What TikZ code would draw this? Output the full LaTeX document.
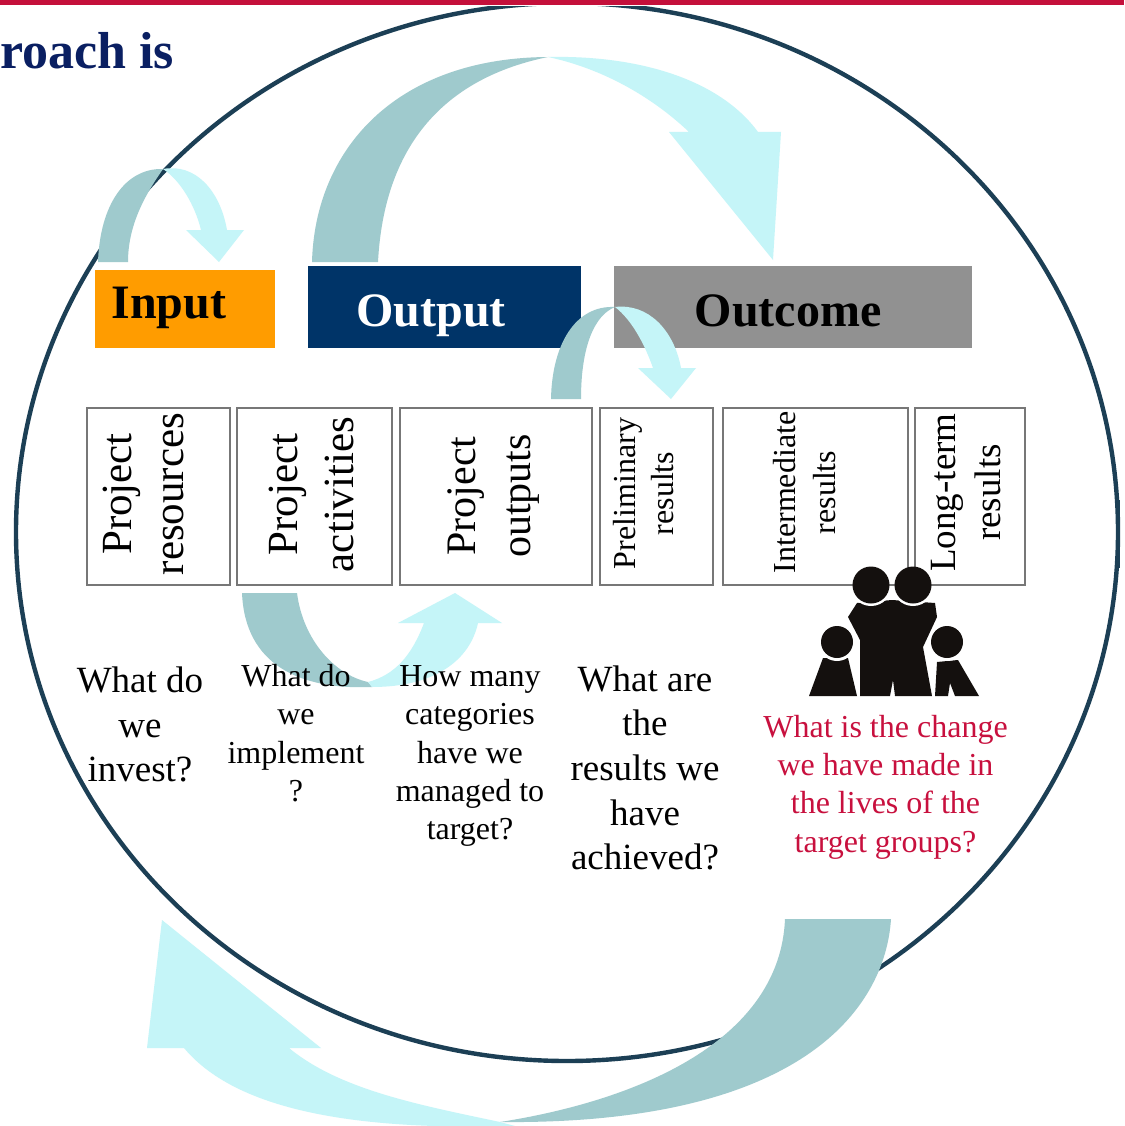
\documentclass[tikz,border=0pt]{standalone}
\usepackage{fontspec}
\setmainfont{Liberation Serif}
\definecolor{barred}{HTML}{C4103B}
\definecolor{navy}{HTML}{0A1F62}
\definecolor{ringc}{HTML}{1C3F55}
\definecolor{darkarrow}{HTML}{9FCACD}
\definecolor{lightarrow}{HTML}{C5F5F8}
\definecolor{inputc}{HTML}{FF9C00}
\definecolor{outputc}{HTML}{003468}
\definecolor{outcomec}{HTML}{919191}
\definecolor{boxedge}{HTML}{777777}
\definecolor{redtext}{HTML}{C8103E}
\definecolor{famc}{HTML}{14100E}
\newcommand{\fs}[2]{\fontsize{#1}{#2}\selectfont}
\tikzset{
  x=1pt,y=-1pt,
  banner/.style={rectangle,inner sep=0pt,outer sep=0pt},
  bannertext/.style={inner sep=0pt,font=\bfseries\fs{48}{50}},
  stagebox/.style={rectangle,draw=boxedge,line width=2.4pt,fill=white,inner sep=0pt,outer sep=0pt,minimum height=177pt},
  big/.style={rotate=90,align=center,inner sep=0pt},
  small/.style={rotate=90,align=center,inner sep=0pt},
  qlarge/.style={align=center,inner sep=0pt,font=\fs{37}{44.7}},
  qsmall/.style={align=center,inner sep=0pt,font=\fs{32}{38.4}},
  darkpart/.style={fill=darkarrow,draw=none},
  lightpart/.style={fill=lightarrow,draw=none},
}
\begin{document}
\begin{tikzpicture}
\useasboundingbox (0,0) rectangle (1124,1126);
\fill[white] (0,0) rectangle (1124,1126);
\clip (0,0) rectangle (1124,1126);
% ring
\draw[ringc,line width=4.4pt] (567,532) ellipse [x radius=551,y radius=529];
\draw[ringc,line width=2.5pt] (1119,500) -- (1119,568);
\fill[white] (0,5) rectangle (1124,6.5);
\fill[barred] (0,0) rectangle (1124,5);
\node[anchor=base west,inner sep=0pt,text=navy,font=\bfseries\fs{52}{54}] (title) at (0,69) {roach is};
% banner boxes
\node[banner,fill=inputc,minimum width=180pt,minimum height=78pt] (input) at (185,309) {};
\node[banner,fill=outputc,minimum width=273pt,minimum height=82pt] (output) at (444.5,307) {};
\node[banner,fill=outcomec,minimum width=358pt,minimum height=82pt] (outcome) at (793,307) {};
\node[bannertext,text=black] (inputlabel) at (169,307.5) {Input};
\node[bannertext,text=white] (outputlabel) at (431,315.5) {Output};
\node[bannertext,text=black] (outcomelabel) at (788,310.5) {Outcome};
% stage boxes
\node[stagebox,minimum width=143pt] (b1) at (158.5,496.5) {};
\node[stagebox,minimum width=155pt] (b2) at (314.5,496.5) {};
\node[stagebox,minimum width=192pt] (b3) at (496,496.5) {};
\node[stagebox,minimum width=113pt] (b4) at (656.5,496.5) {};
\node[stagebox,minimum width=185pt] (b5) at (815.5,496.5) {};
\node[stagebox,minimum width=110pt] (b6) at (970,496.5) {};
\node[big,font=\fs{43}{52}] (t1) at (143,494) {Project\\resources};
\node[big,font=\fs{43}{56}] (t2) at (311,494.5) {Project\\activities};
\node[big,font=\fs{42}{55}] (t3) at (493.5,496) {Project\\outputs};
\node[small,font=\fs{32}{38}] (t4) at (643.5,493.5) {Preliminary\\results};
\node[small,font=\fs{32}{40}] (t5) at (804.5,492.5) {Intermediate\\results};
\node[small,font=\fs{37}{45}] (t6) at (966,492.5) {Long-term\\results};
% top big arrow
\path[darkpart] (312,262) .. controls (315,150) and (395,58) .. (548,57)
  .. controls (460,75) and (385,130) .. (378,262) -- cycle;
\path[lightpart] (548,57) .. controls (640,55) and (720,80) .. (758,132)
  -- (781,132) -- (773,260) -- (669,132) -- (689,132)
  .. controls (650,95) and (600,68) .. (548,57) -- cycle;
% input arrow
\path[darkpart] (98,262) .. controls (100,205) and (125,168) .. (163,169)
  .. controls (145,195) and (128,225) .. (128,262) -- cycle;
\path[lightpart] (163,169) .. controls (195,163) and (220,190) .. (227,230)
  -- (244,230) -- (219,262) -- (186,230) -- (201,230)
  .. controls (195,205) and (180,180) .. (163,169) -- cycle;
% third arrow
\path[darkpart] (551,399) .. controls (552,345) and (575,305) .. (615,307)
  .. controls (595,315) and (581,345) .. (581,399) -- cycle;
\path[lightpart] (615,307) .. controls (648,303) and (674,330) .. (681,368)
  -- (696,368) -- (671,399) -- (638,368) -- (653,368)
  .. controls (645,345) and (632,320) .. (615,307) -- cycle;
% lower U arrow
\path[darkpart] (242,593) -- (297,593) .. controls (303,640) and (335,675) .. (368,682)
  -- (372,687) .. controls (300,690) and (245,665) .. (242,593) -- cycle;
\path[lightpart] (368,682) .. controls (395,675) and (412,655) .. (424,623)
  -- (398,623) -- (455,593) -- (502,623) -- (478,623)
  .. controls (470,660) and (435,687) .. (372,687) -- cycle;
% bottom arrow
\path[darkpart] (785,919) -- (891,919) .. controls (885,1010) and (800,1125) .. (500,1122)
  .. controls (640,1100) and (780,1040) .. (785,919) -- cycle;
\path[lightpart] (500,1122) .. controls (420,1105) and (340,1090) .. (289,1048)
  -- (321,1048) -- (162,920) -- (147,1048) -- (184,1048)
  .. controls (240,1115) and (370,1130) .. (515,1126) -- cycle;
% family icon
\fill[famc] (848,617) -- (857,603) -- (892,600) -- (935,603) -- (937,617) -- (923,647) -- (932,696)
  -- (895,696) -- (893,680) -- (890,696) -- (860,696) -- (860,640) -- cycle;
\fill[famc] (809,696) -- (823,658) -- (848,658) -- (857,696) -- cycle;
\fill[famc] (937,662) -- (958,660) -- (979,696) -- (955,696) -- (950,683) -- (948,696) -- (935,696) -- cycle;
\begin{scope}
\clip (780,593) rectangle (1000,700);
\fill[white] (871,585) circle [radius=21];
\fill[white] (913,585) circle [radius=21];
\end{scope}
\begin{scope}
\clip (780,635) rectangle (1000,700);
\fill[white] (837,642) circle [radius=19];
\fill[white] (947,642) circle [radius=19];
\end{scope}
\fill[famc] (871,585) circle [radius=18.5];
\fill[famc] (913,585) circle [radius=18.5];
\fill[famc] (837,642) circle [radius=16];
\fill[famc] (947,642) circle [radius=16];
% questions
\node[qlarge] (q1) at (140,724.5) {What do\\we\\invest?};
\node[qsmall] (q2) at (296,733) {What do\\we\\implement\\?};
\node[qsmall] (q3) at (470,756) {How many\\categories\\have we\\managed to\\target?};
\node[qlarge] (q4) at (645,768) {What are\\the\\results we\\have\\achieved?};
\node[qsmall,text=redtext] (q5) at (885.5,787) {What is the change\\we have made in\\the lives of the\\target groups?};
\end{tikzpicture}
\end{document}
